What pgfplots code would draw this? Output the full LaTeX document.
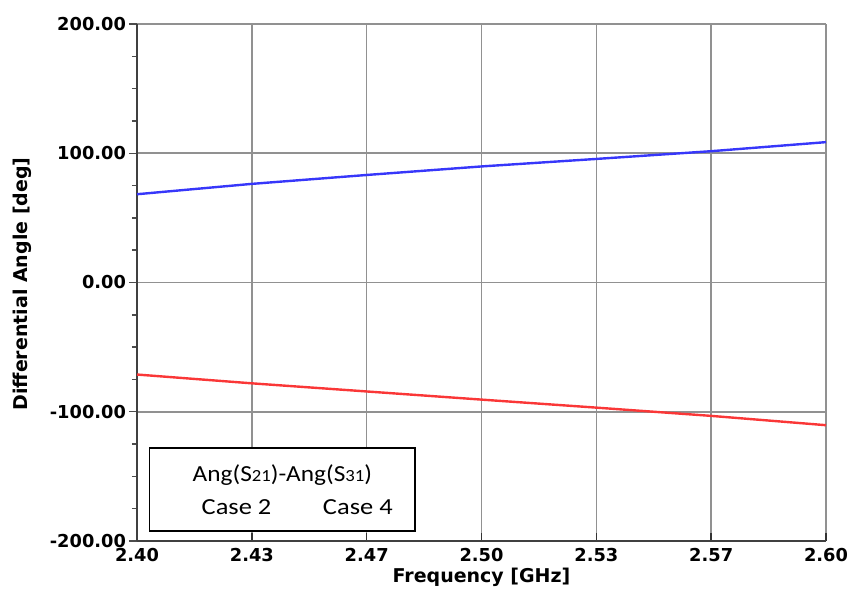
\documentclass[border=0pt]{standalone}
\usepackage{pgfplots}
\pgfplotsset{compat=1.18}
\usepackage{graphicx}
\usepackage{fontspec}
\setmainfont{DejaVu Sans}
\newfontfamily\legfont{Carlito}
\definecolor{curveblue}{RGB}{55,55,250}
\definecolor{curvered}{RGB}{250,55,55}
\definecolor{gridgray}{RGB}{145,145,145}

\begin{document}
\begin{tikzpicture}
\begin{axis}[
    scale only axis,
    width=344.5pt, height=258.5pt,
    xmin=2.4, xmax=2.6, ymin=-200, ymax=200,
    xtick={2.4,2.433333,2.466667,2.5,2.533333,2.566667,2.6},
    xticklabels={2.40,2.43,2.47,2.50,2.53,2.57,2.60},
    ytick={-200,-100,0,100,200},
    yticklabels={-200.00,-100.00,0.00,100.00,200.00},
    minor x tick num=3, minor y tick num=3,
    axis x line*=bottom, axis y line*=left,
    axis line style={black!75, line width=0.9pt},
    x tick style={black!80, line width=0.7pt},
    y tick style={black!70, line width=0.7pt},
    xtick align=inside, ytick align=outside,
    major tick length=4pt, minor tick length=2.5pt,
    grid=major,
    major grid style={gridgray, line width=0.8pt},
    ticklabel style={font=\fontsize{8.9}{10}\selectfont\bfseries},
    yticklabel style={xshift=2pt},
    xlabel={Frequency [GHz]},
    ylabel={Differential Angle [deg]},
    label style={font=\fontsize{9.5}{11}\selectfont\bfseries},
    xlabel style={at={(axis description cs:0.5,0)}, anchor=center, yshift=-18pt},
    ylabel style={at={(axis description cs:-0.167,0.497)}, anchor=center},
]
\addplot[curveblue, line width=1.2pt] coordinates {
    (2.4000, 68.3) (2.4333, 76.3) (2.4667, 83.2) (2.5000, 89.8)
    (2.5333, 95.6) (2.5667, 101.6) (2.6000, 108.6)
};
\addplot[curvered, line width=1.2pt] coordinates {
    (2.4000, -71.2) (2.4333, -78.0) (2.4667, -84.3) (2.5000, -90.6)
    (2.5333, -96.8) (2.5667, -103.2) (2.6000, -110.4)
};

% legend box as drawn in the source
\draw[black, line width=0.9pt, fill=white]
    (axis cs:2.4036,-128.3) rectangle (axis cs:2.4808,-192.0);
\node[font=\legfont\fontsize{11.5}{13}\selectfont] at (axis cs:2.4422,-148.9)
    {\scalebox{1.1}[1]{Ang(S\raisebox{-0.3pt}{\fontsize{8.5}{9}\selectfont 21})-Ang(S\raisebox{-0.3pt}{\fontsize{8.5}{9}\selectfont 31})}};
\node[font=\legfont\fontsize{11.5}{13}\selectfont] at (axis cs:2.4289,-173.5)
    {\scalebox{1.15}[1]{Case 2}};
\node[font=\legfont\fontsize{11.5}{13}\selectfont] at (axis cs:2.4641,-173.5)
    {\scalebox{1.15}[1]{Case 4}};

\coordinate (sw) at (rel axis cs:0,0);
\coordinate (ne) at (rel axis cs:1,1);
\end{axis}
\pgfresetboundingbox
\path ([shift={(-68.5pt,-26.5pt)}]sw) rectangle ([shift={(11pt,12pt)}]ne);
\end{tikzpicture}
\end{document}
